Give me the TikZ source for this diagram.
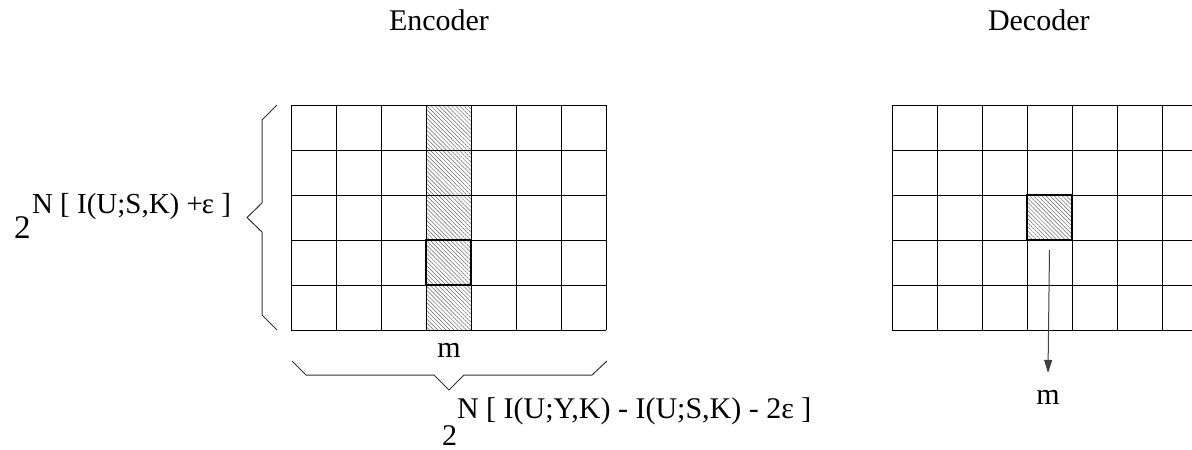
\documentclass[tikz,border=0pt]{standalone}
\usepackage{fontspec}
\setmainfont{Liberation Serif}
\usetikzlibrary{arrows.meta,patterns.meta}
\begin{document}
\begin{tikzpicture}[x=1pt,y=-1pt,
  lbl/.style={font=\fontsize{30}{36}\selectfont, inner sep=0pt, outer sep=0pt},
  sup/.style={font=\fontsize{29}{35}\selectfont, inner sep=0pt, outer sep=0pt},
  bigtwo/.style={font=\fontsize{33}{40}\selectfont, inner sep=0pt, outer sep=0pt},
  gridline/.style={line width=0.9pt, black},
  hatch/.style={pattern={Lines[angle=-45,distance=2.9pt,line width=0.5pt]}, pattern color=black!60},
  boldcell/.style={draw, line width=2.5pt, minimum size=45pt, inner sep=0pt},
  brace/.style={line width=1pt, black!80},
  arr/.style={line width=1pt, black!75, -{Triangle[length=13pt,width=8pt]}}]
\useasboundingbox (0,0) rectangle (1192,450);
% encoder grid
\fill[hatch] (426,105) rectangle (471,330);
\foreach \x in {291,336,...,606} \draw[gridline] (\x,105) -- (\x,330);
\foreach \y in {105,150,...,330} \draw[gridline] (291,\y) -- (606,\y);
\node[boldcell] (ecell) at (448.5,262.5) {};
% decoder grid
\foreach \x in {892,937,...,1162} \draw[gridline] (\x,105) -- (\x,330);
\foreach \y in {105,150,...,330} \draw[gridline] (892,\y) -- (1192,\y);
\node[boldcell, hatch] (dcell) at (1049.5,217.5) {};
% texts
\node[lbl, anchor=base west] (enc) at (389,30) {Encoder};
\node[lbl, anchor=base west] (dec) at (988,30) {Decoder};
\node[bigtwo, anchor=base west] (two1) at (14,238) {2};
\node[sup, anchor=base west] (exp1) at (32,213) {N [ I(U;S,K) +\kern-1ptε ]};
\node[lbl, anchor=base] (em) at (449,357) {m};
\node[lbl, anchor=base west] (two2) at (442,445) {2};
\node[lbl, anchor=base west] (exp2) at (457,418) {N [ I(U;Y,K) - I(U;S,K) - 2ε ]};
\node[lbl, anchor=base] (dm) at (1048,404) {m};
% arrow
\coordinate (astart) at (1049.5,250);
\draw[arr] (astart) -- ([yshift=17pt]dm.north);
% braces
\draw[brace] (277,105) -- (262,120) -- (262,203) -- (247,217.5) -- (262,232) -- (262,315) -- (277,330);
\draw[brace] (292,361) -- (306,375) -- (434,375) -- (449,390) -- (464,375) -- (592,375) -- (607,361);
\end{tikzpicture}
\end{document}
